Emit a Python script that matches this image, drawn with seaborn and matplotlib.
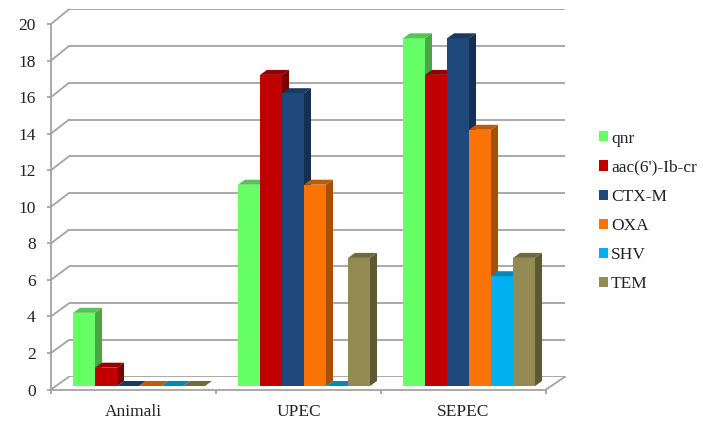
import matplotlib
matplotlib.use("Agg")
import matplotlib.pyplot as plt
import pandas as pd
import seaborn as sns
from matplotlib.lines import Line2D
from matplotlib.patches import Polygon
from matplotlib.transforms import IdentityTransform

categories = ["Animali", "UPEC", "SEPEC"]
genes = ["qnr", "aac(6')-Ib-cr", "CTX-M", "OXA", "SHV", "TEM"]
qnr = [4, 11, 19]
aac = [1, 17, 17]
ctx_m = [0, 16, 19]
oxa = [0, 11, 14]
shv = [0, 0, 6]
tem = [0, 7, 7]
y_ticks = list(range(0, 21, 2))

front_colors = ["#66FF66", "#C00000", "#1F497D", "#F97306", "#00B0F0", "#948A54"]
side_colors = ["#48A848", "#7A0000", "#152F52", "#A65005", "#0080A8", "#5E5835"]
top_colors = ["#55C455", "#960000", "#183960", "#C05A05", "#0088BB", "#716A40"]
GRID = "#a3a3a3"
TEXT = "#222222"
W, H = 703, 422
DEPTH_X, DEPTH_Y = 7, 5
FONT_SIZE = 12.5

plt.rcParams["font.family"] = ["Liberation Serif", "DejaVu Serif"]
sns.set_style("white")
plt.rcParams["font.family"] = ["Liberation Serif", "DejaVu Serif"]


def px_axes(fig, left, right, bottom_y, top_y):
    """Add axes whose edges are given in pixels, with y counted from the top."""
    ax = fig.add_axes([left / W, (H - bottom_y) / H, (right - left) / W, (bottom_y - top_y) / H])
    ax.patch.set_alpha(0)
    return ax


fig = plt.figure(figsize=(W / 100, H / 100), dpi=100, facecolor="white")

# Back wall with its horizontal grid
back = px_axes(fig, 69, 565, 376.7, 9.3)
back.set_xlim(0, 3)
back.set_ylim(0, 20)
back.set_yticks(y_ticks)
back.set_xticks([])
back.set_yticklabels([])
back.tick_params(left=False)
back.grid(axis="y", color=GRID, lw=1.3)
sns.despine(ax=back, left=True, bottom=True)
back.set_zorder(0)

# Front frame carrying the tick labels
front = px_axes(fig, 51, 546, 389.5, 24)
front.set_xlim(0, 3)
front.set_ylim(0, 20)
front.set_yticks(y_ticks)
front.set_xticks([0, 1, 2, 3])
front.set_xticklabels([])
front.set_xticks([0.5, 1.5, 2.5], minor=True)
front.set_xticklabels(categories, minor=True)
sns.despine(ax=front)
for side in ("left", "bottom"):
    front.spines[side].set_color(GRID)
    front.spines[side].set_linewidth(1.3)
front.tick_params(axis="both", which="major", color=GRID, length=3, width=1.3,
                  left=True, bottom=True)
front.tick_params(axis="y", labelsize=FONT_SIZE, labelcolor=TEXT, pad=8)
front.tick_params(axis="x", which="minor", length=0, labelsize=FONT_SIZE, labelcolor=TEXT, pad=10.7)
front.set_zorder(1)

# Diagonal edges joining the front frame to the back wall
for tick in y_ticks:
    start = front.transData.transform((0, tick))
    end = back.transData.transform((0, tick))
    fig.add_artist(Line2D([start[0], end[0]], [start[1], end[1]], color=GRID, lw=1.3,
                          transform=IdentityTransform()))
start = front.transData.transform((3, 0))
end = back.transData.transform((3, 0))
fig.add_artist(Line2D([start[0], end[0]], [start[1], end[1]], color=GRID, lw=1.3,
                      transform=IdentityTransform()))

# Bars
data = pd.DataFrame({
    "category": categories * len(genes),
    "gene": [g for g in genes for _ in categories],
    "count": qnr + aac + ctx_m + oxa + shv + tem,
})
ax = px_axes(fig, 56.5, 551.5, 386, 20)
ax.set_zorder(2)
sns.barplot(data=data, x="category", y="count", hue="gene", order=categories, hue_order=genes,
            palette=front_colors, saturation=1, width=0.8, gap=0, linewidth=0, ax=ax, legend=True)
ax.set_xlim(-0.5, 2.5)
ax.set_ylim(0, 20)
ax.set_axis_off()
fig.canvas.draw()

# Extrude each bar with a top and a side face
for g, container in enumerate(ax.containers):
    for bar in container:
        x0, x1 = bar.get_x(), bar.get_x() + bar.get_width()
        height = bar.get_height()
        (xl, yb), (xr, yt) = ax.transData.transform([(x0, 0), (x1, height)])
        order = 10 + bar.get_x() * 10
        bar.set_zorder(order)
        top = [(xl, yt), (xr, yt), (xr + DEPTH_X, yt + DEPTH_Y), (xl + DEPTH_X, yt + DEPTH_Y)]
        ax.add_patch(Polygon(top, closed=True, fc=top_colors[g], ec="none", zorder=order,
                             transform=IdentityTransform(), clip_on=False))
        if height > 0:
            side = [(xr, yb), (xr, yt), (xr + DEPTH_X, yt + DEPTH_Y), (xr + DEPTH_X, yb + DEPTH_Y)]
            ax.add_patch(Polygon(side, closed=True, fc=side_colors[g], ec="none", zorder=order,
                                 transform=IdentityTransform(), clip_on=False))

handles, labels = ax.get_legend_handles_labels()
ax.legend(handles, labels, loc="center left", bbox_to_anchor=(599 / W, (H - 211.5) / H),
          bbox_transform=fig.transFigure, frameon=False, fontsize=FONT_SIZE, labelcolor=TEXT,
          handlelength=0.52, handleheight=0.52, handletextpad=0.17, labelspacing=0.76,
          borderpad=0, borderaxespad=0)

fig.savefig("out.png", dpi=100)
